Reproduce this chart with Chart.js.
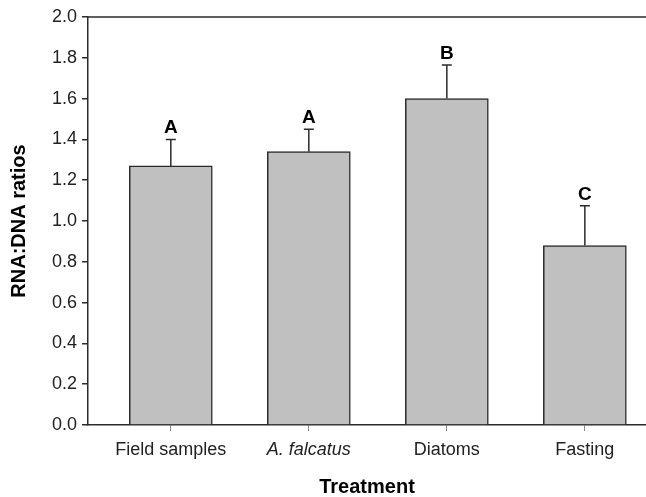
<!DOCTYPE html>
<html>
<head>
<meta charset="utf-8">
<script src="https://cdn.jsdelivr.net/npm/chart.js@4"></script>
<style>
  body { margin: 0; background: #fff; }
  #canvas { display: block; }
</style>
</head>
<body>
<canvas id="canvas" width="646" height="497"></canvas>
<script>
// RNA:DNA ratios by treatment (bar = mean, whisker = upper SE)
var treatments = ['Field samples', 'A. falcatus', 'Diatoms', 'Fasting'];
var means = [1.27, 1.34, 1.60, 0.88];
var errors = [0.13, 0.11, 0.165, 0.195];
var letters = ['A', 'A', 'B', 'C'];
var yTicks = [0, 0.2, 0.4, 0.6, 0.8, 1.0, 1.2, 1.4, 1.6, 1.8, 2.0];

var FONT = "'Liberation Sans', Arial, Helvetica, sans-serif";
var INK = '#2b2b2b';

// top frame line + error bars + significance letters
var extras = {
    id: 'extras',
    afterDatasetsDraw: function (chart) {
        var ctx = chart.ctx;
        var xs = chart.scales.x, ys = chart.scales.y;
        var area = chart.chartArea;
        ctx.save();
        ctx.strokeStyle = INK;
        ctx.lineWidth = 1.5;
        ctx.beginPath();
        ctx.moveTo(area.left, area.top);
        ctx.lineTo(area.right, area.top);
        ctx.stroke();

        means.forEach(function (m, i) {
            var x = xs.getPixelForValue(i);
            var y0 = ys.getPixelForValue(m);
            var y1 = ys.getPixelForValue(m + errors[i]);
            ctx.beginPath();
            ctx.moveTo(x, y0);
            ctx.lineTo(x, y1);
            ctx.moveTo(x - 5, y1);
            ctx.lineTo(x + 5, y1);
            ctx.stroke();

            ctx.fillStyle = '#000';
            ctx.font = 'bold 19px ' + FONT;
            ctx.textAlign = 'center';
            ctx.textBaseline = 'alphabetic';
            ctx.fillText(letters[i], x, y1 - 6);
        });
        ctx.restore();
    }
};

var ctx = document.getElementById('canvas').getContext('2d');
var chart = new Chart(ctx, {
    type: 'bar',
    data: {
        datasets: [{
            data: means.map(function (m, i) { return { x: i, y: m }; }),
            backgroundColor: '#c0c0c0',
            borderColor: INK,
            borderWidth: 1.5,
            barThickness: 83
        }]
    },
    options: {
        responsive: false,
        animation: false,
        layout: { padding: { top: 17, right: 0, bottom: 0, left: 0 } },
        plugins: { legend: { display: false }, tooltip: { enabled: false } },
        scales: {
            x: {
                type: 'linear',
                offset: false,
                min: -0.6,
                max: 3.443,
                afterBuildTicks: function (axis) {
                    axis.ticks = treatments.map(function (t, i) { return { value: i }; });
                },
                afterFit: function (axis) { axis.height = 72; },
                grid: { offset: false, drawOnChartArea: false, tickLength: 6, tickColor: '#888', lineWidth: 1 },
                border: { color: INK, width: 1.5 },
                ticks: {
                    padding: 8,
                    color: '#222',
                    maxRotation: 0,
                    autoSkip: false,
                    font: function (c) {
                        return { family: FONT, size: 18, style: c.index === 1 ? 'italic' : 'normal' };
                    },
                    callback: function (v) { return treatments[v]; }
                },
                title: {
                    display: true,
                    text: 'Treatment',
                    color: '#000',
                    font: { family: FONT, size: 20, weight: 'bold', lineHeight: 1 },
                    padding: { top: 0, bottom: 0 }
                }
            },
            y: {
                min: 0,
                max: 2,
                afterBuildTicks: function (axis) {
                    axis.ticks = yTicks.map(function (v) { return { value: v }; });
                },
                afterFit: function (axis) { axis.width = 88; },
                grid: { drawOnChartArea: false, tickLength: 6, tickColor: INK, lineWidth: 1.5 },
                border: { color: INK, width: 1.5 },
                ticks: {
                    padding: 5,
                    color: '#222',
                    font: { family: FONT, size: 18 },
                    callback: function (v) { return v.toFixed(1); }
                },
                title: {
                    display: true,
                    text: 'RNA:DNA ratios',
                    color: '#000',
                    font: { family: FONT, size: 20, weight: 'bold', lineHeight: 1 },
                    padding: { top: 9, bottom: 0 }
                }
            }
        }
    },
    plugins: [extras]
});
</script>
</body>
</html>
